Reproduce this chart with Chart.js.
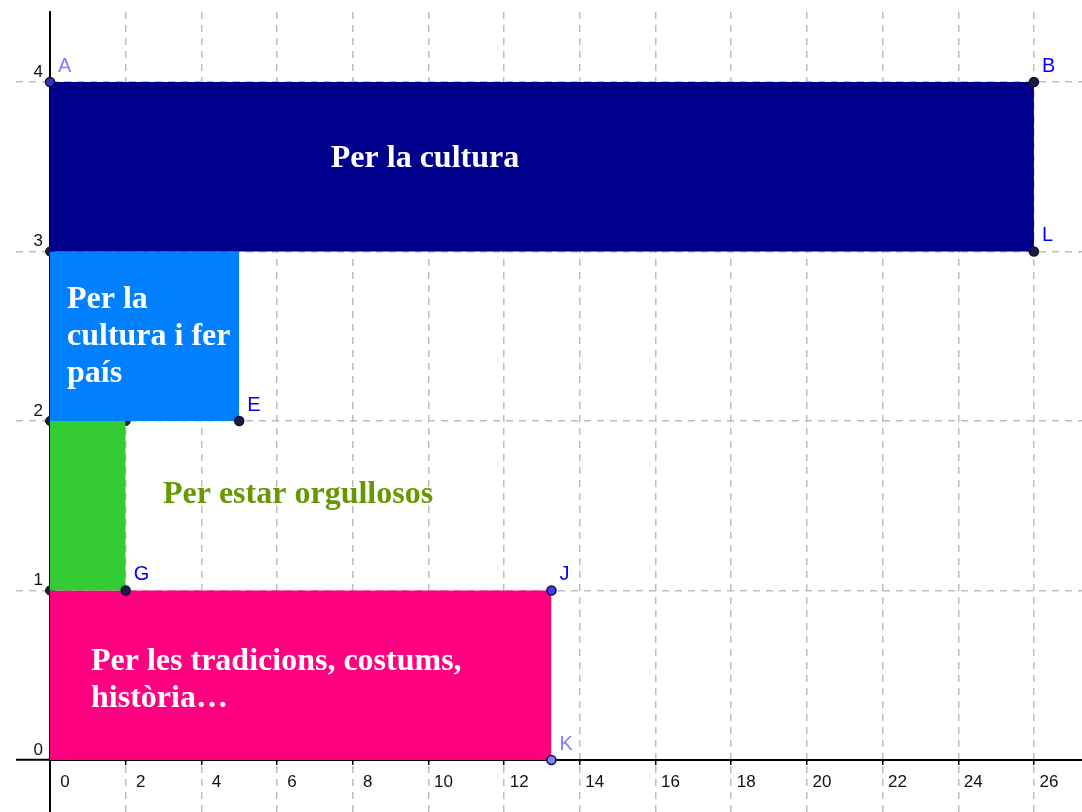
<!DOCTYPE html>
<html><head><meta charset="utf-8">
<script src="https://cdn.jsdelivr.net/npm/chart.js@4.4.1/dist/chart.umd.min.js"></script>
<style>html,body{margin:0;padding:0;background:#fff;}canvas{display:block;}</style>
</head><body>
<canvas id="c" width="1082" height="812"></canvas>
<script>
// ---- data ----
const xTickValues = [0, 2, 4, 6, 8, 10, 12, 14, 16, 18, 20, 22, 24, 26];
const yTickValues = [0, 1, 2, 3, 4];

const rectNames = ['Per la cultura', 'Per la cultura i fer país', 'Per estar orgullosos', 'Per les tradicions, costums, història…'];
const rectLabelLines = [['Per la cultura'], ['Per la', 'cultura i fer', 'país'], ['Per estar orgullosos'], ['Per les tradicions, costums,', 'història…']];
const rectX0 = [0, 0, 0, 0];
const rectX1 = [26, 5, 2, 13.25];
const rectY0 = [3, 2, 1, 0];
const rectY1 = [4, 3, 2, 1];

const pointNames = ['A', 'B', 'L', 'E', 'G', 'J', 'K'];
const pointX = [0, 26, 26, 5, 2, 13.25, 13.25];
const pointY = [4, 4, 3, 2, 1, 1, 0];

const cornerX = [0, 0, 2, 0];
const cornerY = [3, 2, 2, 1];

// ---- styles ----
const rectColors = ['#00008C', '#0080FF', '#33CC33', '#FF0080'];
const rectTextColors = ['#ffffff', '#ffffff', '#669900', '#ffffff'];
const rectTextAnchor = [[7.42, 3.50], [0.45, 2.667], [2.985, 1.516], [1.083, 0.531]]; // left, first baseline (data units)
const lineHeightPx = 37;
const pointFill = ['#3535c0', '#1c1c40', '#1c1c40', '#1c1c40', '#1c1c40', '#3c3cff', '#8080ff'];
const pointLabelColor = ['#7f7fff', '#0000ff', '#0000ff', '#0000ff', '#0000ff', '#0000ff', '#7f7fff'];
const gridColor = '#bdbdbd';
const dash = [7, 6];

const datasets = [];
datasets.push({
  type: 'scatter',
  data: pointX.map((v, i) => ({x: v, y: pointY[i]})),
  pointRadius: 4.5,
  pointBackgroundColor: pointFill,
  pointBorderColor: '#101030',
  pointBorderWidth: 1.5,
  showLine: false,
  clip: false
});
rectNames.forEach((name, i) => {
  datasets.push({
    type: 'line',
    label: name,
    data: [{x: rectX0[i], y: rectY1[i]}, {x: rectX1[i], y: rectY1[i]}],
    fill: {value: rectY0[i]},
    backgroundColor: rectColors[i],
    borderColor: 'rgba(0,0,0,0)',
    borderWidth: 0,
    pointRadius: 0,
    tension: 0,
    clip: false
  });
});
datasets.push({
  type: 'scatter',
  data: cornerX.map((v, i) => ({x: v, y: cornerY[i]})),
  pointRadius: 4.5,
  pointBackgroundColor: '#1c1c40',
  pointBorderColor: '#101030',
  pointBorderWidth: 1,
  showLine: false,
  clip: false
});

const labelPlugin = {
  id: 'labels',
  afterDatasetsDraw(chart) {
    const {ctx, scales: {x, y}} = chart;
    ctx.save();
    ctx.textBaseline = 'alphabetic';
    ctx.textAlign = 'left';
    ctx.font = 'bold 32px "Liberation Serif", "Times New Roman", serif';
    rectLabelLines.forEach((lines, i) => {
      ctx.fillStyle = rectTextColors[i];
      const px = x.getPixelForValue(rectTextAnchor[i][0]);
      const py = y.getPixelForValue(rectTextAnchor[i][1]);
      lines.forEach((t, k) => ctx.fillText(t, px, py + k * lineHeightPx));
    });
    ctx.font = '20px "Liberation Sans", Arial, sans-serif';
    pointNames.forEach((n, i) => {
      ctx.fillStyle = pointLabelColor[i];
      ctx.fillText(n, x.getPixelForValue(pointX[i]) + 8, y.getPixelForValue(pointY[i]) - 10);
    });
    ctx.restore();
  }
};

const tickFont = {family: '"Liberation Sans", Arial, sans-serif', size: 17};
new Chart(document.getElementById('c'), {
  data: {datasets},
  options: {
    responsive: false,
    animation: false,
    layout: {autoPadding: false, padding: {left: 16, top: 12, right: 0, bottom: 0}},
    plugins: {legend: {display: false}, tooltip: {enabled: false}},
    scales: {
      x: {
        type: 'linear',
        min: 0, max: 27.27,
        position: {y: 0},
        afterBuildTicks: s => { s.ticks = xTickValues.map(v => ({value: v})); },
        afterFit: s => { s.paddingLeft = 0; s.paddingRight = 0; s.paddingTop = 0; s.paddingBottom = 0; },
        grid: {color: gridColor, lineWidth: 1.5, tickLength: 4, tickColor: '#000000', tickWidth: 1.5},
        border: {display: true, color: '#000000', width: 2, dash: dash},
        ticks: {font: tickFont, color: '#111', padding: 8, labelOffset: 15, maxRotation: 0, autoSkip: false}
      },
      y: {
        type: 'linear',
        min: -0.307, max: 4.413,
        position: 'left',
        afterBuildTicks: s => { s.ticks = yTickValues.map(v => ({value: v})); },
        afterFit: s => { s.width = 34; s.paddingTop = 0; s.paddingBottom = 0; s.paddingLeft = 0; s.paddingRight = 0; },
        grid: {
          color: gridColor, lineWidth: 1.5, tickLength: 34,
          tickColor: c => (c.tick && c.tick.value === 0) ? '#000000' : gridColor,
          tickWidth: c => (c.tick && c.tick.value === 0) ? 2 : 1.5,
          tickBorderDash: c => (c.tick && c.tick.value === 0) ? [] : dash
        },
        border: {display: true, color: '#000000', width: 2, dash: dash},
        ticks: {font: tickFont, color: '#111', padding: -27, labelOffset: -10, autoSkip: false}
      }
    }
  },
  plugins: [labelPlugin]
});
</script>
</body></html>
